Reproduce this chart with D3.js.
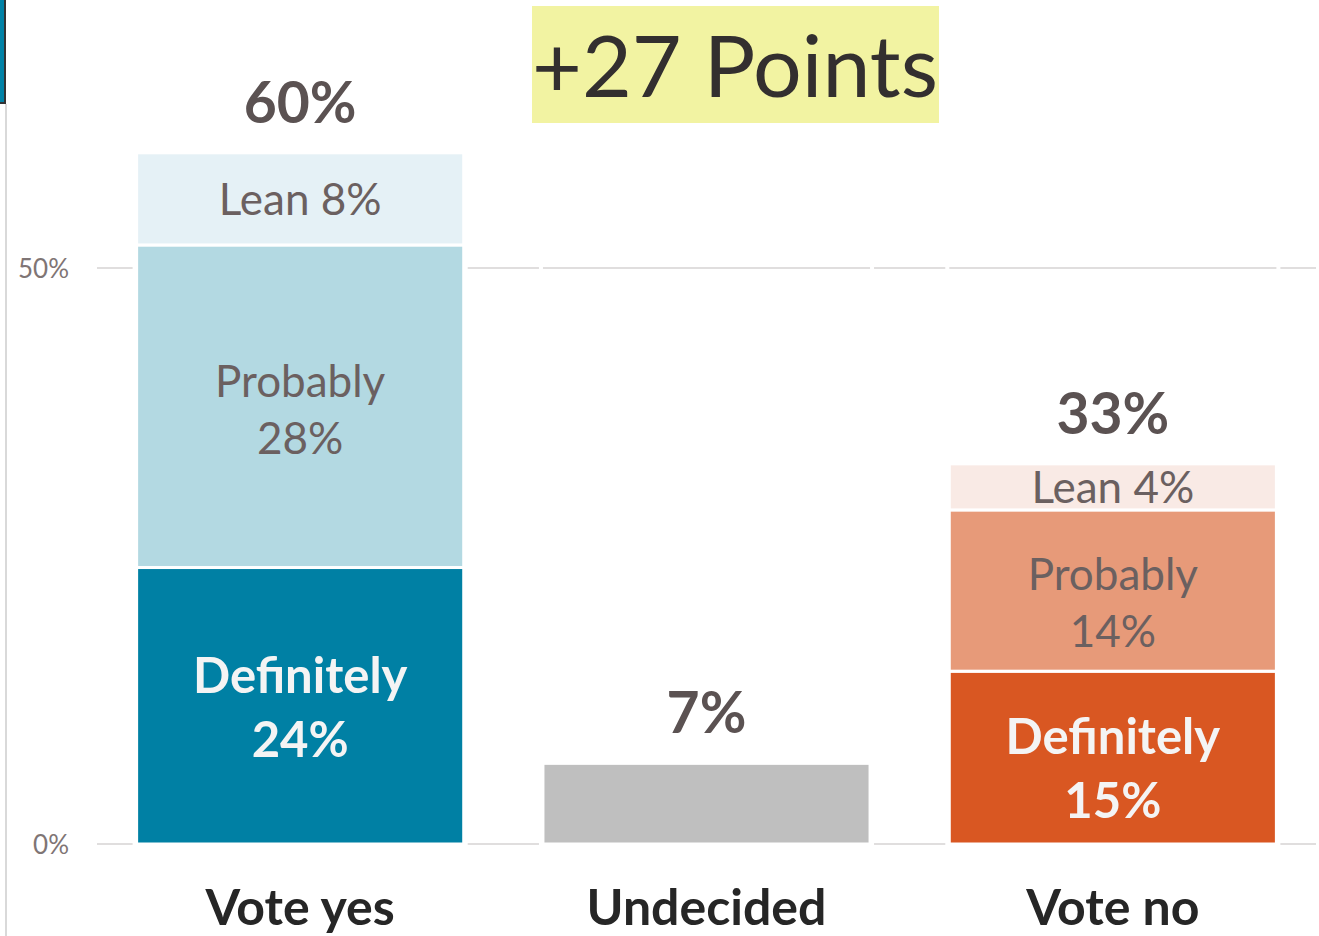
<!DOCTYPE html>
<html>
<head>
<meta charset="utf-8">
<script src="https://cdnjs.cloudflare.com/ajax/libs/d3/7.8.5/d3.min.js"></script>
<style>
  html, body { margin: 0; padding: 0; background: #fff; }
  svg { display: block; font-family: Lato, "Open Sans", sans-serif; }
</style>
</head>
<body>
<script>
(function(){
'use strict';

var categories = ['Vote yes', 'Undecided', 'Vote no'];
var segmentNames = ['Definitely', 'Probably', 'Lean'];
var yesValues = [24, 28, 8];
var undecidedValues = [7];
var noValues = [15, 14, 4];
var totals = ['60%', '7%', '33%'];
var yTicks = [0, 50];
var headline = '+27 Points';

var W = 1319, H = 936;

var svg = d3.select('body').append('svg')
  .attr('width', W)
  .attr('height', H);

var x = d3.scaleBand()
  .domain(categories)
  .range([97, 1316])
  .paddingInner(0.195)
  .paddingOuter(0.0975);

var y = d3.scaleLinear()
  .domain([0, 50])
  .range([844, 268]);

var colors = {
  'Vote yes': ['#0080a4', '#b3d9e2', '#e5f1f6'],
  'Undecided': ['#bfbfbf'],
  'Vote no': ['#d95722', '#e79a79', '#f9eae5']
};

// label nudges (Excel didn't center them exactly)
var nudge = {'Vote yes': 3, 'Undecided': 0, 'Vote no': 12};

// left frame bits
svg.append('rect').attr('x', 0).attr('y', 0).attr('width', 5).attr('height', 103)
  .attr('fill', '#0082a6');
svg.append('path').attr('d', 'M5,0V103H0').attr('fill', 'none')
  .attr('stroke', '#333').attr('stroke-width', 2);
svg.append('line').attr('x1', 6).attr('x2', 6).attr('y1', 104).attr('y2', H)
  .attr('stroke', '#d9d9d9').attr('stroke-width', 2);

// gridlines
svg.append('g').selectAll('line').data(yTicks).enter().append('line')
  .attr('x1', x.range()[0]).attr('x2', x.range()[1])
  .attr('y1', function(d){ return y(d); })
  .attr('y2', function(d){ return y(d); })
  .attr('stroke', '#e0dede').attr('stroke-width', 2);

// white gaps in gridlines at bar edges
var edges = [];
categories.forEach(function(c){
  edges.push(x(c) - 2);
  edges.push(x(c) + x.bandwidth() + 2);
});
svg.append('g').selectAll('rect').data(edges).enter().append('rect')
  .attr('x', function(d){ return d - 2; })
  .attr('y', 0).attr('width', 4).attr('height', H - 80)
  .attr('fill', '#fff');

// y tick labels
svg.append('g').selectAll('text').data(yTicks).enter().append('text')
  .attr('x', 69).attr('y', function(d){ return y(d); })
  .attr('text-anchor', 'end').attr('dominant-baseline', 'central')
  .attr('font-size', 26).attr('fill', '#7f7575')
  .text(function(d){ return d + '%'; });

// stacked segments
var data = {'Vote yes': yesValues, 'Undecided': undecidedValues, 'Vote no': noValues};
var segs = [];
categories.forEach(function(c){
  var acc = 0;
  data[c].forEach(function(v, i){
    segs.push({cat: c, i: i, v: v, y0: acc, y1: acc + v, color: colors[c][i]});
    acc += v;
  });
});

svg.append('g').selectAll('rect').data(segs).enter().append('rect')
  .attr('x', function(d){ return x(d.cat); })
  .attr('width', x.bandwidth())
  .attr('y', function(d){ return y(d.y1); })
  .attr('height', function(d){ return y(d.y0) - y(d.y1); })
  .attr('fill', function(d){ return d.color; })
  .attr('stroke', '#fff').attr('stroke-width', 3);

// segment labels
var labelled = segs.filter(function(d){ return d.cat !== 'Undecided'; });
var lg = svg.append('g').selectAll('text').data(labelled).enter().append('text')
  .attr('text-anchor', 'middle')
  .attr('font-size', function(d){ return d.i === 0 ? 49 : 44; })
  .attr('font-weight', function(d){ return d.i === 0 ? 'bold' : 'normal'; })
  .attr('fill', function(d){ return d.i === 0 ? '#f4f4f4' : '#6b6060'; })
  .attr('transform', function(d){
    var off = d.i === 2 ? 0 : nudge[d.cat];
    return 'translate(' + (x(d.cat) + x.bandwidth() / 2) + ',' + ((y(d.y0) + y(d.y1)) / 2 + off) + ')';
  });
lg.each(function(d){
  var t = d3.select(this);
  if (d.i === 2) {
    t.append('tspan').attr('x', 0).attr('y', 16).text('Lean ' + d.v + '%');
  } else {
    var gap = d.i === 0 ? 64 : 57;
    t.append('tspan').attr('x', 0).attr('y', 16 - gap / 2).text(segmentNames[d.i]);
    t.append('tspan').attr('x', 0).attr('y', 16 + gap / 2).text(d.v + '%');
  }
});

// totals
var sums = categories.map(function(c){ return d3.sum(data[c]); });
svg.append('g').selectAll('text').data(categories).enter().append('text')
  .attr('x', function(c){ return x(c) + x.bandwidth() / 2; })
  .attr('y', function(c, i){ return y(sums[i]) - 30; })
  .attr('text-anchor', 'middle')
  .attr('font-size', 57).attr('font-weight', 'bold').attr('fill', '#5b5252')
  .text(function(c, i){ return totals[i]; });

// category axis labels
svg.append('g').selectAll('text').data(categories).enter().append('text')
  .attr('x', function(c){ return x(c) + x.bandwidth() / 2; })
  .attr('y', 925)
  .attr('text-anchor', 'middle')
  .attr('font-size', 50).attr('font-weight', 'bold').attr('fill', '#262626')
  .text(function(c){ return c; });

// headline box
svg.append('rect').attr('x', 532).attr('y', 6).attr('width', 407).attr('height', 117)
  .attr('fill', '#f2f3a2');
svg.append('text').attr('x', 735).attr('y', 97)
  .attr('text-anchor', 'middle')
  .attr('font-size', 86).attr('fill', '#332f2f')
  .text(headline);

})();
</script>
</body>
</html>
